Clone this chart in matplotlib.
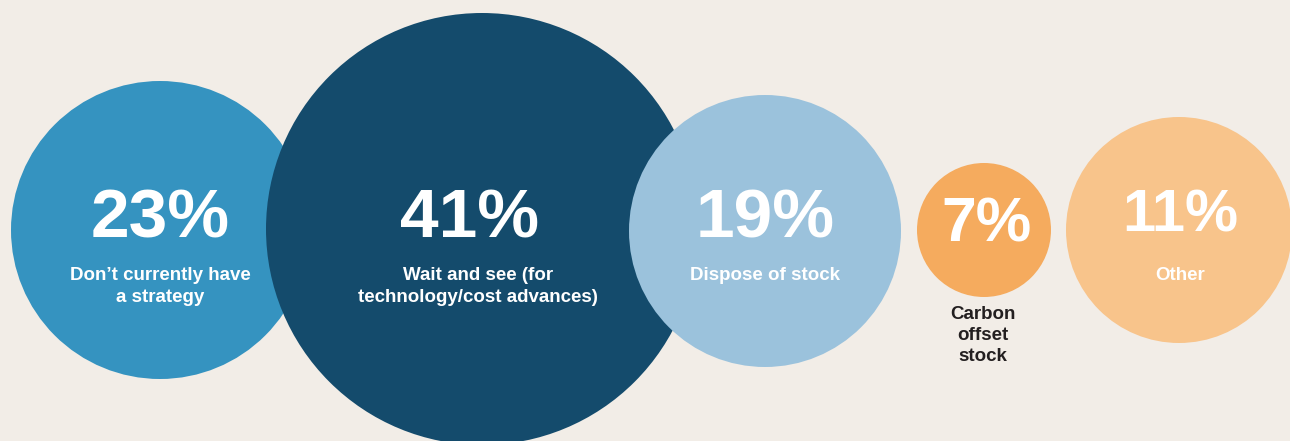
import matplotlib.pyplot as plt
from matplotlib.patches import Circle

plt.rcParams['font.family'] = ['Liberation Sans', 'DejaVu Sans']

# share of respondents by strategy
labels = ["Don\u2019t currently have\na strategy",
          "Wait and see (for\ntechnology/cost advances)",
          "Dispose of stock",
          "Carbon\noffset\nstock",
          "Other"]
values = [23, 41, 19, 7, 11]

# bubble layout (pixel units)
cx = [160, 482, 765, 984, 1179]
cy = [230, 229, 231, 230, 230]
radius = [149, 216, 136, 67, 113]
colors = ['#3593c0', '#144b6c', '#9bc2dc', '#f5ab5e', '#f8c48b']
draw_order = [1, 0, 2, 3, 4]

# text layout
num_x = [160, 470, 765, 986, 1180]
num_y = [220, 220, 220, 225, 216]
num_size = [50, 50, 50, 45, 43]
label_x = [160, 478, 765, 983, 1180]
label_top = 267

bg = '#f2ede7'
fig = plt.figure(figsize=(12.9, 4.41), dpi=100, facecolor=bg)
ax = fig.add_axes([0, 0, 1, 1])
ax.set_facecolor(bg)
ax.set_xlim(0, 1290)
ax.set_ylim(441, 0)
ax.set_aspect('equal')
ax.axis('off')

for i in draw_order:
    ax.add_patch(Circle((cx[i], cy[i]), radius[i], facecolor=colors[i],
                        edgecolor='none', zorder=i + 1))

for i, (lab, v) in enumerate(zip(labels, values)):
    ax.text(num_x[i], num_y[i], f"{v}%", color='white', fontsize=num_size[i],
            fontweight='bold', ha='center', va='center', zorder=10)
    if i == 3:
        # label sits under the small bubble
        ax.text(label_x[i], 306, lab, color='#231f20', fontsize=13.5,
                fontweight='bold', ha='center', va='top', linespacing=1.3,
                zorder=10)
    else:
        ax.text(label_x[i], label_top, lab, color='white', fontsize=13.5,
                fontweight='bold', ha='center', va='top', linespacing=1.42,
                zorder=10)

fig.savefig('out.png', dpi=100, facecolor=bg)
